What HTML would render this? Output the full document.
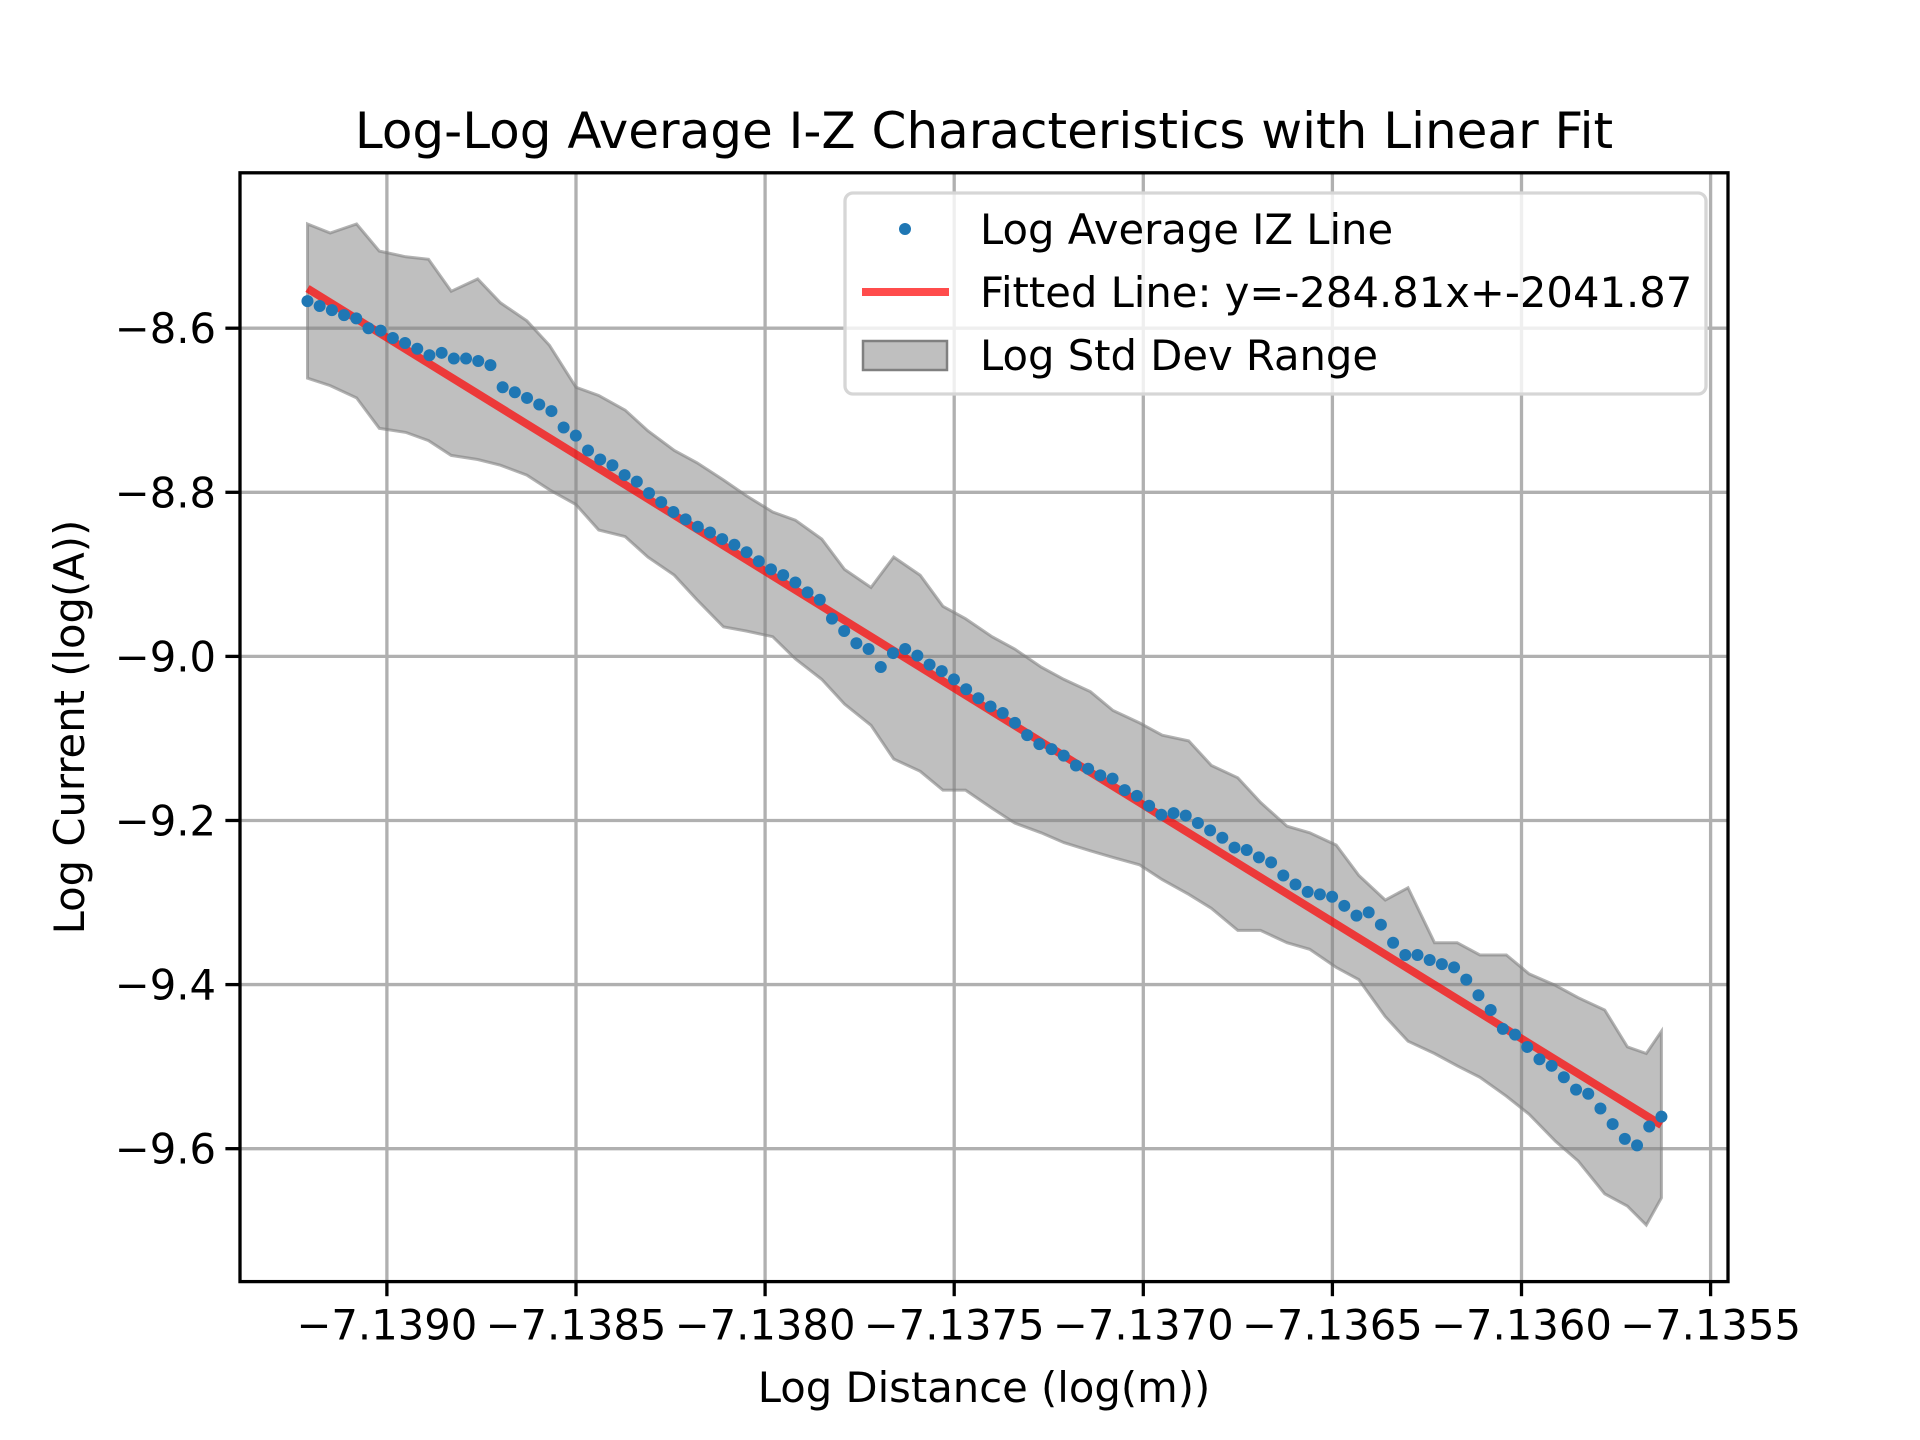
<!DOCTYPE html>
<html><head><meta charset="utf-8">
<style>
html,body{margin:0;padding:0;background:#fff;}
svg{display:block;font-family:"DejaVu Sans","Liberation Sans",sans-serif;}
</style></head>
<body>
<svg id="chart" width="1920" height="1440" viewBox="0 0 1920 1440" xmlns="http://www.w3.org/2000/svg">
<rect x="0" y="0" width="1920" height="1440" fill="#fff"/>
<text x="984" y="148" font-size="50" text-anchor="middle">Log-Log Average I-Z Characteristics with Linear Fit</text>
<g id="grid"></g>
<g id="band"></g>
<g id="fit"></g>
<g id="pts"></g>
<rect x="240" y="172.8" width="1488" height="1108.8" fill="none" stroke="#000" stroke-width="3.3"/>
<g id="ticks"></g>
<text x="984" y="1402" font-size="41.7" text-anchor="middle">Log Distance (log(m))</text>
<text x="0" y="0" font-size="41.7" text-anchor="middle" transform="translate(84,727) rotate(-90)">Log Current (log(A))</text>
<g>
<rect x="845" y="193" width="861" height="201" rx="8" fill="#fff" fill-opacity="0.8" stroke="#d6d6d6" stroke-width="3.3"/>
<circle cx="905" cy="229" r="6" fill="#1f77b4"/>
<text x="980" y="244" font-size="41.7">Log Average IZ Line</text>
<line x1="862" y1="292" x2="949" y2="292" stroke="#f00" stroke-opacity="0.7" stroke-width="8"/>
<text x="980" y="307" font-size="41.7">Fitted Line: y=-284.81x+-2041.87</text>
<rect x="863" y="341" width="84" height="29" fill="#808080" fill-opacity="0.5" stroke="#808080" stroke-width="2.5"/>
<text x="980" y="370" font-size="41.7">Log Std Dev Range</text>
</g>
</svg>
<script>
const meanY=[-8.567,-8.573,-8.578,-8.584,-8.588,-8.600,-8.603,-8.612,-8.618,-8.625,-8.633,-8.630,-8.637,-8.637,-8.640,-8.645,-8.672,-8.678,-8.685,-8.693,-8.701,-8.721,-8.731,-8.749,-8.760,-8.767,-8.779,-8.787,-8.801,-8.812,-8.824,-8.833,-8.842,-8.849,-8.857,-8.864,-8.873,-8.884,-8.894,-8.901,-8.910,-8.922,-8.931,-8.954,-8.969,-8.984,-8.991,-9.013,-8.996,-8.991,-8.999,-9.010,-9.018,-9.028,-9.040,-9.051,-9.061,-9.069,-9.081,-9.096,-9.107,-9.113,-9.121,-9.133,-9.137,-9.145,-9.149,-9.163,-9.170,-9.182,-9.193,-9.191,-9.194,-9.203,-9.212,-9.221,-9.233,-9.236,-9.245,-9.251,-9.267,-9.278,-9.287,-9.290,-9.293,-9.304,-9.316,-9.312,-9.327,-9.349,-9.364,-9.364,-9.370,-9.375,-9.379,-9.394,-9.413,-9.431,-9.454,-9.461,-9.476,-9.491,-9.499,-9.513,-9.528,-9.533,-9.551,-9.570,-9.588,-9.596,-9.573,-9.561];
const bandX=[-7.13921,-7.13915,-7.13908,-7.13902,-7.13895,-7.13889,-7.13883,-7.13876,-7.13870,-7.13863,-7.13857,-7.13850,-7.13844,-7.13837,-7.13831,-7.13824,-7.13818,-7.13811,-7.13805,-7.13798,-7.13792,-7.13785,-7.13779,-7.13772,-7.13766,-7.13759,-7.13753,-7.13747,-7.13740,-7.13734,-7.13727,-7.13721,-7.13714,-7.13708,-7.13701,-7.13695,-7.13688,-7.13682,-7.13675,-7.13669,-7.13662,-7.13656,-7.13649,-7.13643,-7.13636,-7.13630,-7.13623,-7.13617,-7.13611,-7.13604,-7.13598,-7.13591,-7.13585,-7.13578,-7.13572,-7.13567,-7.13563];
const bandUpper=[-8.473,-8.484,-8.473,-8.506,-8.513,-8.516,-8.555,-8.540,-8.569,-8.591,-8.621,-8.672,-8.682,-8.700,-8.725,-8.749,-8.764,-8.785,-8.804,-8.824,-8.834,-8.857,-8.894,-8.916,-8.879,-8.901,-8.939,-8.954,-8.976,-8.991,-9.013,-9.028,-9.043,-9.066,-9.081,-9.096,-9.103,-9.133,-9.148,-9.178,-9.207,-9.215,-9.230,-9.267,-9.297,-9.282,-9.349,-9.349,-9.364,-9.364,-9.387,-9.401,-9.416,-9.431,-9.476,-9.484,-9.457];
const bandLower=[-8.661,-8.670,-8.685,-8.722,-8.727,-8.737,-8.755,-8.760,-8.767,-8.779,-8.797,-8.815,-8.846,-8.854,-8.879,-8.901,-8.931,-8.964,-8.969,-8.976,-9.003,-9.028,-9.058,-9.084,-9.125,-9.140,-9.163,-9.163,-9.185,-9.203,-9.215,-9.227,-9.237,-9.245,-9.254,-9.272,-9.290,-9.307,-9.334,-9.334,-9.349,-9.357,-9.379,-9.394,-9.439,-9.469,-9.484,-9.499,-9.513,-9.536,-9.558,-9.591,-9.615,-9.655,-9.670,-9.693,-9.660];
const fitSlope=-284.81, fitIntercept=-2041.87;
const xTicks=[-7.1390,-7.1385,-7.1380,-7.1375,-7.1370,-7.1365,-7.1360,-7.1355];
const xTickLabels=["\u22127.1390","\u22127.1385","\u22127.1380","\u22127.1375","\u22127.1370","\u22127.1365","\u22127.1360","\u22127.1355"];
const yTicks=[-8.6,-8.8,-9.0,-9.2,-9.4,-9.6];
const yTickLabels=["\u22128.6","\u22128.8","\u22129.0","\u22129.2","\u22129.4","\u22129.6"];

const NS="http://www.w3.org/2000/svg";
const L=240,R=1728,T=172.8,B=1281.6;
const X0=-7.1393884,X1=-7.135454,Y0=-9.762,Y1=-8.4106;
function sx(v){return L+(v-X0)/(X1-X0)*(R-L);}
function sy(v){return B-(v-Y0)/(Y1-Y0)*(B-T);}
function mk(tag,attrs,parent){const e=document.createElementNS(NS,tag);for(const k in attrs)e.setAttribute(k,attrs[k]);parent.appendChild(e);return e;}
const grid=document.getElementById('grid'),ticks=document.getElementById('ticks');
xTicks.forEach((v,i)=>{
  const x=sx(v);
  const g=mk('line',{x1:x,y1:T,x2:x,y2:B,stroke:'#b0b0b0','stroke-width':3.3},grid);
  
  
  const t=mk('line',{x1:x,y1:B,x2:x,y2:B+14.6,stroke:'#000','stroke-width':3.3},ticks);
  
  
  const lb=mk('text',{x:x,y:B+58,'font-size':41.7,'text-anchor':'middle'},ticks);
  lb.textContent=xTickLabels[i];
  
  
});
yTicks.forEach((v,i)=>{
  const y=sy(v);
  const g=mk('line',{x1:L,y1:y,x2:R,y2:y,stroke:'#b0b0b0','stroke-width':3.3},grid);
  
  
  const t=mk('line',{x1:L-14.6,y1:y,x2:L,y2:y,stroke:'#000','stroke-width':3.3},ticks);
  
  
  const lb=mk('text',{x:L-24,y:y+15,'font-size':41.7,'text-anchor':'end'},ticks);
  lb.textContent=yTickLabels[i];
  
  
});
// band
let d='';
bandX.forEach((v,i)=>{d+=(i?'L':'M')+sx(v).toFixed(1)+','+sy(bandUpper[i]).toFixed(1);});
for(let i=bandX.length-1;i>=0;i--){d+='L'+sx(bandX[i]).toFixed(1)+','+sy(bandLower[i]).toFixed(1);}
d+='Z';
const bp=mk('path',{d:d,fill:'#808080','fill-opacity':0.5,stroke:'#808080','stroke-opacity':0.6,'stroke-width':3},document.getElementById('band'));


// points
const xStart=bandX[0],xEnd=bandX[bandX.length-1];
const pts=document.getElementById('pts');
const meanX=meanY.map((_,i)=>xStart+(xEnd-xStart)*i/(meanY.length-1));
meanY.forEach((v,i)=>{
  const c=mk('circle',{cx:sx(meanX[i]),cy:sy(v),r:6,fill:'#1f77b4'},pts);
  
  
});
// fit
const fl=mk('line',{x1:sx(xStart),y1:sy(fitSlope*xStart+fitIntercept),x2:sx(xEnd),y2:sy(fitSlope*xEnd+fitIntercept),stroke:'#f00','stroke-opacity':0.7,'stroke-width':8},document.getElementById('fit'));


</script>
</body></html>
